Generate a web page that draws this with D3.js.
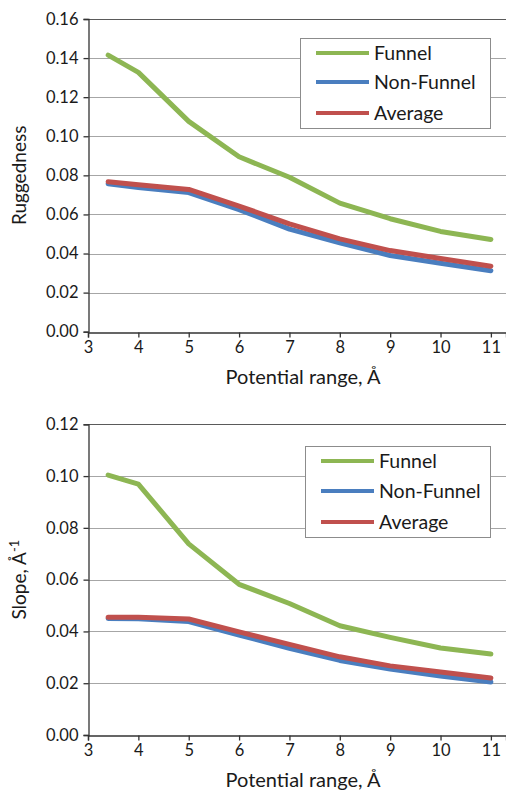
<!DOCTYPE html>
<html>
<head>
<meta charset="utf-8">
<script src="https://cdn.jsdelivr.net/npm/d3@7"></script>
<style>
  body { margin: 0; background: #fff; }
  svg { display: block; font-family: Lato, "Open Sans", sans-serif; }
</style>
</head>
<body>
<svg id="chart" width="506" height="790"></svg>
<script>
// potential range values (x)
var potentialRange = [3.4, 4, 5, 6, 7, 8, 9, 10, 11];
var seriesNames = ["Funnel", "Non-Funnel", "Average"];
var seriesColors = ["#8db653", "#4a7ebf", "#c0504d"];

// Ruggedness (top panel)
var ruggedFunnel    = [0.1415, 0.1327, 0.1076, 0.0895, 0.0790, 0.0658, 0.0578, 0.0513, 0.0472];
var ruggedNonFunnel = [0.0757, 0.0738, 0.0712, 0.0625, 0.0525, 0.0455, 0.0390, 0.0350, 0.0312];
var ruggedAverage   = [0.0767, 0.0752, 0.0728, 0.0643, 0.0552, 0.0475, 0.0415, 0.0375, 0.0335];
var ruggedTicks = [0, 0.02, 0.04, 0.06, 0.08, 0.10, 0.12, 0.14, 0.16];

// Slope (bottom panel)
var slopeFunnel    = [0.1004, 0.0969, 0.0738, 0.0582, 0.0508, 0.0422, 0.0377, 0.0336, 0.0313];
var slopeNonFunnel = [0.0450, 0.0449, 0.0438, 0.0386, 0.0335, 0.0288, 0.0255, 0.0228, 0.0205];
var slopeAverage   = [0.0455, 0.0455, 0.0448, 0.0398, 0.0350, 0.0302, 0.0267, 0.0243, 0.0220];
var slopeTicks = [0, 0.02, 0.04, 0.06, 0.08, 0.10, 0.12];

var xTicks = [3, 4, 5, 6, 7, 8, 9, 10, 11];

var svg = d3.select("#chart");

function drawPanel(opt) {
  var x = d3.scaleLinear().domain([3, 11.3]).range([88, 506]);
  var y = d3.scaleLinear().domain([0, opt.yMax]).range([opt.bottom, opt.top]);
  var g = svg.append("g");

  // gridlines
  g.selectAll(".grid").data(opt.yTicks.slice(1)).enter().append("line")
    .attr("x1", 88).attr("x2", 506)
    .attr("y1", function(d) { return Math.round(y(d)) + 0.5; })
    .attr("y2", function(d) { return Math.round(y(d)) + 0.5; })
    .attr("stroke", function(d, i) { return i == opt.yTicks.length - 2 ? "#5a5a5a" : "#a6a6a6"; })
    .attr("stroke-width", 1.2);

  // axes
  var yAxis = d3.axisLeft(y).tickValues(opt.yTicks).tickFormat(d3.format(".2f")).tickSizeOuter(0).tickSize(5).tickPadding(5);
  var gy = g.append("g").attr("transform", "translate(88.5,0)").call(yAxis);
  var xAxis = d3.axisBottom(x).tickValues(xTicks).tickFormat(d3.format("d")).tickSizeOuter(0).tickSize(5).tickPadding(4);
  var gx = g.append("g").attr("transform", "translate(0," + (Math.round(opt.bottom) + 0.5) + ")").call(xAxis);
  [gx, gy].forEach(function(a) {
    a.select(".domain").attr("stroke", "#333").attr("stroke-width", 1.3);
    a.selectAll(".tick line").attr("stroke", "#333").attr("stroke-width", 1.3);
    a.selectAll("text").attr("font-size", 16.5).attr("fill", "#1a1a1a").attr("font-family", "Lato, sans-serif");
  });

  // lines
  var line = d3.line()
    .x(function(d, i) { return x(potentialRange[i]); })
    .y(function(d) { return y(d); });
  [1, 2, 0].forEach(function(k) {
    g.append("path").datum(opt.series[k])
      .attr("d", line)
      .attr("fill", "none")
      .attr("stroke", seriesColors[k])
      .attr("stroke-width", 5)
      .attr("stroke-linecap", "round")
      .attr("stroke-linejoin", "round");
  });

  // axis titles
  g.append("text")
    .attr("x", 303).attr("y", opt.bottom + 52)
    .attr("text-anchor", "middle").attr("font-size", 20).attr("fill", "#1a1a1a")
    .text("Potential range, Å");
  var yl = g.append("text")
    .attr("transform", "translate(26," + ((opt.top + opt.bottom) / 2) + ") rotate(-90)")
    .attr("text-anchor", "middle").attr("font-size", 19).attr("fill", "#1a1a1a");
  yl.append("tspan").text(opt.yLabel);
  if (opt.sup) {
    yl.append("tspan").attr("dy", -7).attr("font-size", 13).text(opt.sup);
  }

  // legend
  var lg = g.append("g").attr("transform", "translate(" + opt.legend[0] + "," + opt.legend[1] + ")");
  lg.append("rect").attr("x", 0.5).attr("y", 0.5).attr("width", opt.legend[2]).attr("height", opt.legend[3])
    .attr("fill", "#fff").attr("stroke", "#8c8c8c").attr("stroke-width", 1);
  seriesNames.forEach(function(name, i) {
    var ly = opt.legendRows[i];
    lg.append("line").attr("x1", 16).attr("x2", 69).attr("y1", ly).attr("y2", ly)
      .attr("stroke", seriesColors[i]).attr("stroke-width", 4);
    lg.append("text").attr("x", 74).attr("y", ly).attr("dy", "0.36em")
      .attr("font-size", 19.5).attr("fill", "#1a1a1a").text(name);
  });
}

drawPanel({
  top: 19, bottom: 331.7, yMax: 0.16, yTicks: ruggedTicks,
  series: [ruggedFunnel, ruggedNonFunnel, ruggedAverage],
  yLabel: "Ruggedness",
  legend: [300, 38, 190, 90], legendRows: [15, 44, 75]
});

drawPanel({
  top: 424.3, bottom: 735, yMax: 0.12, yTicks: slopeTicks,
  series: [slopeFunnel, slopeNonFunnel, slopeAverage],
  yLabel: "Slope, Å", sup: "-1",
  legend: [305, 446, 185, 91], legendRows: [15, 45, 76]
});
</script>
</body>
</html>
